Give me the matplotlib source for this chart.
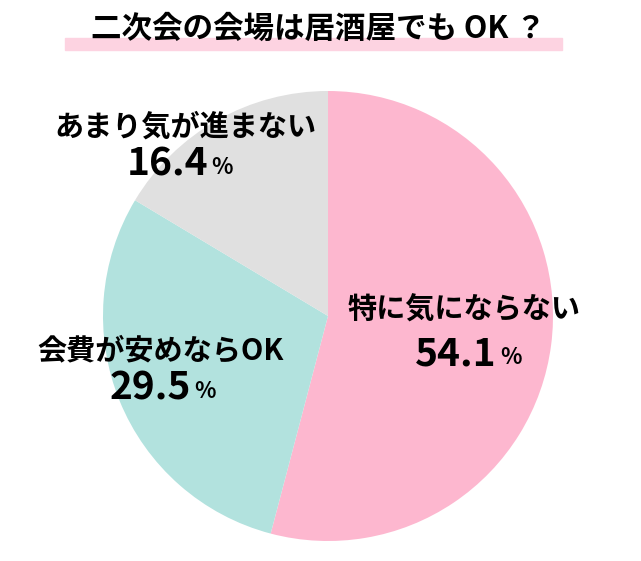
import matplotlib.pyplot as plt
from matplotlib.patches import Rectangle
plt.rcParams['font.family'] = ['Noto Sans CJK JP', 'DejaVu Sans']

labels = ['特に気にならない', '会費が安めならOK', 'あまり気が進まない']
values = [54.1, 29.5, 16.4]
colors = ['#fdb7cf', '#b2e2de', '#e0e0e0']
title = '二次会の会場は居酒屋でも OK ？'

W, H = 641, 561
fig = plt.figure(figsize=(W/100, H/100), dpi=100)
cx, cy, r = 328, 316, 225
ax = fig.add_axes([(cx-r)/W, (H-cy-r)/H, 2*r/W, 2*r/H])
ax.pie(values, colors=colors, startangle=90, counterclock=False, radius=1)
ax.set_xlim(-1, 1); ax.set_ylim(-1, 1); ax.set_aspect('auto'); ax.axis('off')

def px(x, y):
    return x/W, 1-y/H

fig.patches.append(Rectangle(px(65, 50), (562-65)/W, 12/H, transform=fig.transFigure,
                             color='#fdd3e1', zorder=0))
fig.text(*px(318, 29), title, ha='center', va='center', fontsize=22, fontweight='bold', zorder=2)

# (label center, number right edge + y)
pos = [((464, 310), (497, 354)), ((161, 350), (191, 388)), ((185, 127), (208, 164))]
for lab, v, (lp, npos) in zip(labels, values, pos):
    fig.text(*px(*lp), lab, ha='center', va='center', fontsize=21, fontweight='bold')
    fig.text(*px(*npos), f'{v:.1f}', ha='right', va='center', fontsize=28, fontweight='bold')
    fig.text(*px(npos[0]+3, npos[1]+4), '%', ha='left', va='center', fontsize=16, fontweight='bold')

fig.savefig('out.png', dpi=100)
